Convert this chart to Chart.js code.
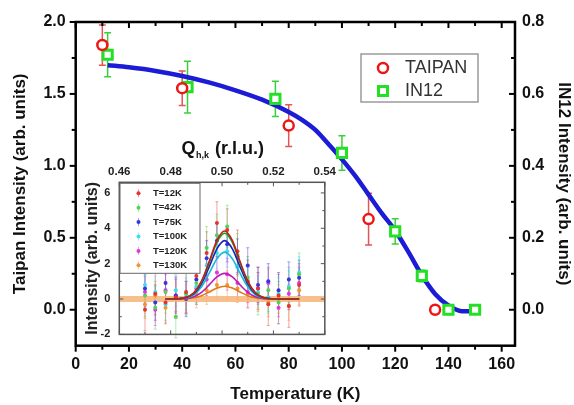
<!DOCTYPE html>
<html><head><meta charset="utf-8">
<script src="https://cdn.jsdelivr.net/npm/chart.js@4.4.0/dist/chart.umd.min.js"></script>
<style>
html,body{margin:0;padding:0;background:#fff;}
#wrap{position:relative;width:574px;height:405px;background:#fff;}
#main{position:absolute;left:0;top:0;}
#inset{position:absolute;left:80px;top:135px;}
</style></head><body>
<div id="wrap"><canvas id="main" width="574" height="405"></canvas><canvas id="inset" width="260" height="215"></canvas></div>
<script>
// ---------- main chart data ----------
const taipanT   = [10, 40, 80, 110, 135];
const taipanI   = [1.84, 1.54, 1.28, 0.63, 0.0];
const taipanErr = [0.14, 0.12, 0.145, 0.18, 0];
const in12T     = [12, 42, 75, 100, 120, 130, 140, 150];
const in12I     = [0.709, 0.619, 0.586, 0.436, 0.218, 0.094, 0.0, 0.0];
const in12Err   = [0.061, 0.072, 0.049, 0.048, 0.035, 0.016, 0, 0];
const fitT = [12, 20, 30, 40, 50, 60, 70, 80, 85, 90, 95, 100, 105, 110, 115, 120, 125, 130, 135, 140, 145, 150];
const fitI = [1.70, 1.685, 1.66, 1.625, 1.58, 1.525, 1.46, 1.375, 1.32, 1.25, 1.15, 1.045, 0.93, 0.80, 0.67, 0.55, 0.40, 0.24, 0.11, 0.03, -0.01, -0.01];
const xTicks      = [0, 20, 40, 60, 80, 100, 120, 140, 160];
const yLeftTicks  = [0, 0.5, 1.0, 1.5, 2.0];
const yRightTicks = [0, 0.2, 0.4, 0.6, 0.8];

// ---------- inset data ----------
const insetLabels = ['T=12K', 'T=42K', 'T=75K', 'T=100K', 'T=120K', 'T=130K'];
const insetQ = [0.470, 0.474, 0.478, 0.482, 0.486, 0.490, 0.494, 0.498, 0.502, 0.506, 0.510, 0.514, 0.518, 0.522, 0.526, 0.530];
const ins12K  = [-0.6, 0.3, -0.2, 0.1, 0.4, 1.3, 2.6, 4.3, 3.9, 2.7, 1.0, 0.6, -0.3, 0.2, -0.4, 0.8];
const ins42K  = [0.2, -0.5, 0.4, -1.0, 0.3, 0.9, 2.9, 3.6, 4.1, 2.5, 1.2, 0.3, 0.5, -0.2, 0.6, 1.4];
const ins75K  = [0.6, -0.2, 0.9, 0.2, 0.0, 1.1, 2.3, 3.3, 3.1, 2.4, 1.9, 0.8, 1.0, 0.5, 1.1, 1.2];
const ins100K = [0.8, 0.4, -0.3, 0.5, 0.3, 0.7, 1.9, 2.6, 2.7, 1.8, 0.9, 0.4, 0.1, 0.3, 0.7, 1.5];
const ins120K = [0.4, -0.6, 0.5, 0.2, 0.1, 0.6, 1.1, 1.5, 1.4, 0.9, 0.4, 0.6, 0.9, -0.5, 0.3, 0.9];
const ins130K = [-0.3, 0.2, -0.5, 0.1, 0.0, 0.3, 0.5, 0.8, 0.8, 0.6, 0.3, 0.1, -0.2, 0.0, -0.4, 0.5];
const insetErr = [1.2, 1.2, 1.0, 0.9, 0.9, 0.8];
const fitQ = [0.478, 0.483, 0.486, 0.489, 0.492, 0.495, 0.498, 0.501, 0.504, 0.507, 0.510, 0.513, 0.516, 0.519, 0.524, 0.530];
const fit12K  = [0, 0.02, 0.09, 0.35, 1.01, 2.12, 3.32, 3.85, 3.32, 2.12, 1.01, 0.35, 0.09, 0.02, 0, 0];
const fit42K  = [0, 0.02, 0.09, 0.34, 0.97, 2.05, 3.21, 3.72, 3.21, 2.05, 0.97, 0.34, 0.09, 0.02, 0, 0];
const fit75K  = [0, 0.02, 0.08, 0.30, 0.86, 1.82, 2.84, 3.30, 2.84, 1.82, 0.86, 0.30, 0.08, 0.02, 0, 0];
const fit100K = [0, 0.01, 0.06, 0.24, 0.69, 1.46, 2.28, 2.65, 2.28, 1.46, 0.69, 0.24, 0.06, 0.01, 0, 0];
const fit120K = [0, 0.01, 0.03, 0.13, 0.38, 0.80, 1.25, 1.45, 1.25, 0.80, 0.38, 0.13, 0.03, 0.01, 0, 0];
const fit130K = [0, 0, 0.02, 0.07, 0.19, 0.40, 0.62, 0.72, 0.62, 0.40, 0.19, 0.07, 0.02, 0, 0, 0];
const baseQ = [0.46, 0.54];
const baseI = [0, 0];
const insetXTicks = [0.46, 0.48, 0.50, 0.52, 0.54];
const insetYTicks = [-2, 0, 2, 4, 6];

// ---------- helpers ----------
const FONT = "'Liberation Sans', Arial, sans-serif";
const pts = (xs, ys) => xs.map((x, i) => ({x: x, y: ys[i]}));
function drawErr(ctx, sx, sy, xs, ys, es, color, lw, cap) {
  ctx.strokeStyle = color; ctx.lineWidth = lw;
  for (let i = 0; i < xs.length; i++) {
    if (!es[i]) continue;
    const px = sx.getPixelForValue(xs[i]);
    const p1 = sy.getPixelForValue(ys[i] - es[i]);
    const p2 = sy.getPixelForValue(ys[i] + es[i]);
    ctx.beginPath();
    ctx.moveTo(px, p1); ctx.lineTo(px, p2);
    ctx.moveTo(px - cap, p1); ctx.lineTo(px + cap, p1);
    ctx.moveTo(px - cap, p2); ctx.lineTo(px + cap, p2);
    ctx.stroke();
  }
}
function seg(ctx, x1, y1, x2, y2) { ctx.beginPath(); ctx.moveTo(x1, y1); ctx.lineTo(x2, y2); ctx.stroke(); }

// ---------- main chart ----------
const mainPlugin = {
  id: 'mainPlugin',
  beforeDatasetsDraw(chart) {
    const ctx = chart.ctx;
    ctx.save();
    drawErr(ctx, chart.scales.x, chart.scales.y, taipanT, taipanI, taipanErr, '#e05555', 1.5, 3.5);
    drawErr(ctx, chart.scales.x, chart.scales.y2, in12T, in12I, in12Err, '#3ccf3c', 1.5, 3.5);
    ctx.restore();
  },
  afterDraw(chart) {
    const ctx = chart.ctx, a = chart.chartArea;
    const sx = chart.scales.x, sy = chart.scales.y, sy2 = chart.scales.y2;
    ctx.save();
    ctx.strokeStyle = '#000';
    ctx.lineWidth = 2;
    for (let v = 0; v <= 160; v += 10) {
      const px = sx.getPixelForValue(v), L = (v % 20 === 0) ? 6 : 4;
      seg(ctx, px, a.bottom, px, a.bottom + L);
      seg(ctx, px, a.top, px, a.top + L);
    }
    for (let k = 0; k <= 8; k++) {
      const v = k * 0.25, py = sy.getPixelForValue(v), L = (k % 2 === 0) ? 6 : 4;
      seg(ctx, a.left, py, a.left - L, py);
    }
    for (let k = 0; k <= 8; k++) {
      const v = k * 0.1, py = sy2.getPixelForValue(v), L = (k % 2 === 0) ? 6 : 4;
      seg(ctx, a.right, py, a.right - L, py);
    }
    ctx.lineWidth = 2.5;
    ctx.strokeRect(a.left, a.top, a.right - a.left, a.bottom - a.top);
    // legend
    const ds = chart.data.datasets;
    ctx.fillStyle = '#fff'; ctx.strokeStyle = '#9a9a9a'; ctx.lineWidth = 1.5;
    ctx.fillRect(361, 54, 117, 48); ctx.strokeRect(361, 54, 117, 48);
    ctx.strokeStyle = '#ee1515'; ctx.lineWidth = 2.5;
    ctx.beginPath(); ctx.arc(383, 68, 5, 0, Math.PI * 2); ctx.stroke();
    ctx.strokeStyle = '#22e022'; ctx.lineWidth = 3;
    ctx.strokeRect(378.5, 86.5, 9, 9);
    ctx.fillStyle = '#333'; ctx.font = '18px ' + FONT; ctx.textBaseline = 'middle'; ctx.textAlign = 'left';
    ctx.fillText(ds[0].label, 405, 68);
    ctx.fillText(ds[1].label, 405, 91.5);
    ctx.restore();
  }
};

const tickFont = {family: FONT, size: 16, weight: 'bold'};
const titleFont = {family: FONT, size: 17, weight: 'bold'};
const tickGrid = {display: true, drawOnChartArea: false, drawTicks: true, tickLength: 6, color: 'rgba(0,0,0,0)'};

new Chart(document.getElementById('main'), {
  type: 'scatter',
  data: {
    datasets: [
      {label: 'TAIPAN', data: pts(taipanT, taipanI), yAxisID: 'y', order: 0,
       pointStyle: 'circle', pointRadius: 5, pointBorderWidth: 2.5,
       pointBorderColor: '#ee1515', pointBackgroundColor: '#ffffff'},
      {label: 'IN12', data: pts(in12T, in12I), yAxisID: 'y2', order: 1,
       pointStyle: 'rect', pointRadius: 6.5, pointBorderWidth: 3,
       pointBorderColor: '#22e022', pointBackgroundColor: '#ffffff'},
      {label: 'fit', data: pts(fitT, fitI), yAxisID: 'y', order: 2, showLine: true,
       borderColor: '#1c1cd6', borderWidth: 4.5, pointRadius: 0, cubicInterpolationMode: 'monotone'}
    ]
  },
  options: {
    responsive: false, animation: false, devicePixelRatio: 1,
    layout: {padding: {top: 22, left: 0, right: 0, bottom: 0}},
    plugins: {legend: {display: false}, tooltip: {enabled: false}},
    scales: {
      x: {type: 'linear', position: 'bottom', min: 0, max: 165,
          afterBuildTicks: s => { s.ticks = xTicks.map(v => ({value: v})); },
          afterFit: s => { s.height = 59.3; },
          grid: tickGrid, border: {display: false},
          ticks: {font: tickFont, color: '#111', padding: 3, maxRotation: 0, autoSkip: false, callback: v => String(v)},
          title: {display: true, text: 'Temperature (K)', font: titleFont, color: '#111', padding: {top: 0, bottom: 0}}},
      y: {type: 'linear', position: 'left', min: -0.25, max: 2.0,
          afterBuildTicks: s => { s.ticks = yLeftTicks.map(v => ({value: v})); },
          afterFit: s => { s.width = 75.7; },
          grid: tickGrid, border: {display: false},
          ticks: {font: tickFont, color: '#111', padding: 4, autoSkip: false, callback: v => Number(v).toFixed(1)},
          title: {display: true, text: 'Taipan Intensity (arb. units)', font: titleFont, color: '#111', padding: {top: 10, bottom: 0}}},
      y2: {type: 'linear', position: 'right', min: -0.1, max: 0.8,
          afterBuildTicks: s => { s.ticks = yRightTicks.map(v => ({value: v})); },
          afterFit: s => { s.width = 59; },
          grid: {display: true, drawOnChartArea: false, drawTicks: false, color: 'rgba(0,0,0,0)'}, border: {display: false},
          ticks: {font: tickFont, color: '#111', padding: 7, autoSkip: false, callback: v => Number(v).toFixed(1)},
          title: {display: true, text: 'IN12 Intensity (arb. units)', font: titleFont, color: '#111', padding: {top: 0, bottom: 0}}}
    }
  },
  plugins: [mainPlugin]
});

// ---------- inset chart ----------
const insetColors = ['#e63232', '#55d255', '#3535e0', '#38e0f0', '#e035e0', '#f0962e'];
const insetFitColors = ['#c01e1e', '#1e9e1e', '#1e1eb8', '#18b8d8', '#b81eb8', '#e07a14'];
const insetSeries = [ins12K, ins42K, ins75K, ins100K, ins120K, ins130K];
const insetFits = [fit12K, fit42K, fit75K, fit100K, fit120K, fit130K];

function hexA(hex, a) {
  const n = parseInt(hex.slice(1), 16);
  return 'rgba(' + ((n >> 16) & 255) + ',' + ((n >> 8) & 255) + ',' + (n & 255) + ',' + a + ')';
}

const insetDatasets = [];
insetDatasets.push({label: 'base', data: pts(baseQ, baseI), showLine: true, borderColor: 'rgba(246,180,120,0.85)', borderWidth: 6, pointRadius: 0, order: 20});
insetSeries.forEach((s, i) => {
  insetDatasets.push({label: insetLabels[i], data: pts(insetQ, s), pointStyle: 'circle', pointRadius: 2,
    pointBorderWidth: 0, pointBackgroundColor: insetColors[i], order: 10 + i});
});
insetFits.forEach((f, i) => {
  insetDatasets.push({label: insetLabels[i] + ' fit', data: pts(fitQ, f), showLine: true, borderColor: insetFitColors[i],
    borderWidth: 1.6, pointRadius: 0, cubicInterpolationMode: 'monotone', order: i});
});

const insetPlugin = {
  id: 'insetPlugin',
  beforeDraw(chart) {
    const ctx = chart.ctx, a = chart.chartArea;
    ctx.save(); ctx.fillStyle = '#fff';
    ctx.fillRect(a.left, a.top, a.right - a.left, a.bottom - a.top);
    ctx.restore();
  },
  beforeDatasetsDraw(chart) {
    const ctx = chart.ctx;
    ctx.save();
    insetSeries.forEach((s, i) => {
      const es = insetQ.map(() => insetErr[i]);
      drawErr(ctx, chart.scales.x, chart.scales.y, insetQ, s, es, hexA(insetColors[i], 0.45), 1, 1.5);
    });
    ctx.restore();
  },
  afterDraw(chart) {
    const ctx = chart.ctx, a = chart.chartArea, sx = chart.scales.x, sy = chart.scales.y;
    ctx.save();
    ctx.strokeStyle = '#555'; ctx.lineWidth = 1;
    for (let k = 0; k <= 8; k++) {
      const px = sx.getPixelForValue(0.46 + k * 0.01), L = (k % 2 === 0) ? 4 : 2.5;
      seg(ctx, px, a.bottom, px, a.bottom - L);
      seg(ctx, px, a.top, px, a.top + L);
    }
    for (let v = -2; v <= 6; v++) {
      const py = sy.getPixelForValue(v), L = (v % 2 === 0) ? 4 : 2.5;
      seg(ctx, a.left, py, a.left + L, py);
      seg(ctx, a.right, py, a.right - L, py);
    }
    ctx.lineWidth = 1.5; ctx.strokeStyle = '#555';
    ctx.strokeRect(a.left, a.top, a.right - a.left, a.bottom - a.top);
    // legend
    const lx = a.left + 0.7, ly = a.top + 1;
    ctx.fillStyle = '#fff'; ctx.fillRect(lx, ly, 80, 90);
    ctx.strokeStyle = '#666'; ctx.lineWidth = 1; ctx.strokeRect(lx, ly, 80, 90);
    ctx.font = 'bold 9.5px ' + FONT; ctx.textBaseline = 'middle'; ctx.textAlign = 'left';
    insetLabels.forEach((lab, i) => {
      const y = ly + 10 + i * 14.4;
      ctx.strokeStyle = hexA(insetColors[i], 0.5); seg(ctx, lx + 18.5, y - 4, lx + 18.5, y + 4);
      ctx.fillStyle = insetColors[i]; ctx.beginPath(); ctx.arc(lx + 18.5, y, 2, 0, Math.PI * 2); ctx.fill();
      ctx.fillStyle = '#222'; ctx.fillText(lab, lx + 33, y);
    });
    // top axis title Q_{h,k} (r.l.u.)
    ctx.fillStyle = '#111'; ctx.textBaseline = 'alphabetic';
    ctx.font = 'bold 18px ' + FONT;
    let x = 101.5; const base = 19;
    ctx.fillText('Q', x, base); x += ctx.measureText('Q').width + 0.5;
    ctx.font = 'bold 9px ' + FONT;
    ctx.fillText('h,k', x, base + 4); x += ctx.measureText('h,k').width + 1;
    ctx.font = 'bold 18px ' + FONT;
    ctx.fillText(' (r.l.u.)', x, base);
    ctx.restore();
  }
};

new Chart(document.getElementById('inset'), {
  type: 'scatter',
  data: {datasets: insetDatasets},
  options: {
    responsive: false, animation: false, devicePixelRatio: 1,
    layout: {padding: {top: 0, left: 0, right: 10, bottom: 0}},
    plugins: {legend: {display: false}, tooltip: {enabled: false}},
    scales: {
      x: {type: 'linear', position: 'top', min: 0.46, max: 0.54,
          afterBuildTicks: s => { s.ticks = insetXTicks.map(v => ({value: v})); },
          afterFit: s => { s.height = 47.3; },
          grid: {display: true, drawOnChartArea: false, drawTicks: false, color: 'rgba(0,0,0,0)'}, border: {display: false},
          ticks: {font: {family: FONT, size: 11.5, weight: 'bold'}, color: '#222', padding: 4, maxRotation: 0, autoSkip: false,
                  callback: v => Number(v).toFixed(2)}},
      y: {type: 'linear', position: 'left', min: -2, max: 6.6,
          afterBuildTicks: s => { s.ticks = insetYTicks.map(v => ({value: v})); },
          afterFit: s => { s.width = 39.3; },
          grid: {display: true, drawOnChartArea: false, drawTicks: false, color: 'rgba(0,0,0,0)'}, border: {display: false},
          ticks: {font: {family: FONT, size: 11, weight: 'bold'}, color: '#222', padding: 9, autoSkip: false,
                  callback: v => String(v)},
          title: {display: true, text: 'Intensity (arb. units)', font: {family: FONT, size: 16, weight: 'bold'}, color: '#222', padding: {top: 3, bottom: 0}}}
    }
  },
  plugins: [insetPlugin]
});
</script>
</body></html>
